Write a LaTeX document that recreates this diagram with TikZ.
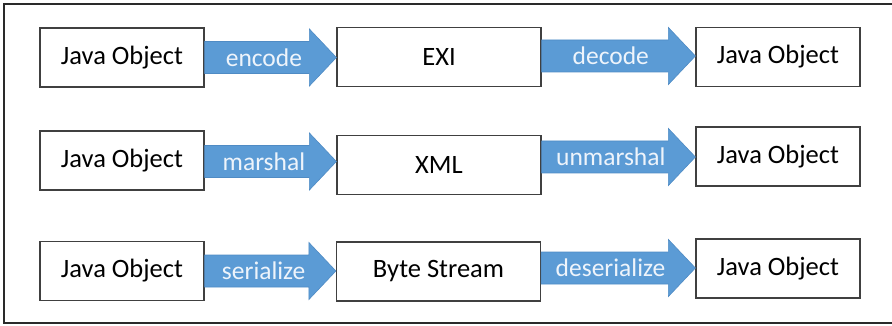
\documentclass[tikz,border=0pt]{standalone}
\usepackage{fontspec}
\setmainfont{Carlito}
\usetikzlibrary{calc}

\definecolor{arrowblue}{HTML}{5B9BD5}
\definecolor{arrowedge}{HTML}{4F8BC4}
\definecolor{labelwhite}{HTML}{EEF4FB}
\definecolor{boxedge}{HTML}{404040}
\definecolor{frameedge}{HTML}{2A2A2A}

\tikzset{
  stagebox/.style={draw=boxedge, line width=1.2pt, fill=white,
    minimum width=164pt, minimum height=59pt, inner sep=0pt,
    font=\fontsize{26.5}{29}\selectfont},
  widebox/.style={stagebox, minimum width=204pt},
  arrowbody/.style={fill=arrowblue, draw=arrowedge, line width=0.6pt},
  arrowlabel/.style={text=labelwhite, inner sep=0pt,
    font=\fontsize{25.5}{28}\selectfont},
}

% block arrow from node #1 to node #2 at height #3, labelled #4
\newcommand\flowarrow[4]{%
  \coordinate (#1-src) at (#1.east |- 0,#3);
  \coordinate (#1-dst) at (#2.west |- 0,#3);
  \filldraw[arrowbody]
    ($(#1-src)+(0,-16)$) -- ($(#1-dst)+(-27,-16)$) -- ($(#1-dst)+(-27,-28.5)$)
    -- (#1-dst) -- ($(#1-dst)+(-27,28.5)$) -- ($(#1-dst)+(-27,16)$)
    -- ($(#1-src)+(0,16)$) -- cycle;
  \node[arrowlabel] (#1-lbl) at ($(#1-src)!0.45!(#1-dst)$) {#4};%
}

\begin{document}
\begin{tikzpicture}[x=1pt, y=-1pt]
  \useasboundingbox (0,0) rectangle (892,326);
  \begin{scope}
    \clip (0,0) rectangle (892,326);
    \draw[frameedge, line width=2pt] (4,4) rectangle (900,323);
  \end{scope}

  % row 1: EXI
  \node[stagebox] (objA) at (122,57.5) {Java Object};
  \node[widebox]  (exi)  at (439,57)   {EXI};
  \node[stagebox] (resA) at (778,57)   {Java Object};
  % row 2: XML
  \node[stagebox] (objB) at (122,160.5) {Java Object};
  \node[widebox]  (xml)  at (439,165)   {XML};
  \node[stagebox] (resB) at (778,156.5) {Java Object};
  % row 3: byte stream
  \node[stagebox] (objC) at (122,271)   {Java Object};
  \node[widebox]  (bytes) at (438.5,271.5) {Byte Stream};
  \node[stagebox] (resC) at (778,268.5) {Java Object};

  \flowarrow{objA}{exi}{57.5}{encode}
  \flowarrow{exi}{resA}{56}{decode}
  \flowarrow{objB}{xml}{161.5}{marshal}
  \flowarrow{xml}{resB}{157}{unmarshal}
  \flowarrow{objC}{bytes}{271}{serialize}
  \flowarrow{bytes}{resC}{268}{deserialize}
\end{tikzpicture}
\end{document}
